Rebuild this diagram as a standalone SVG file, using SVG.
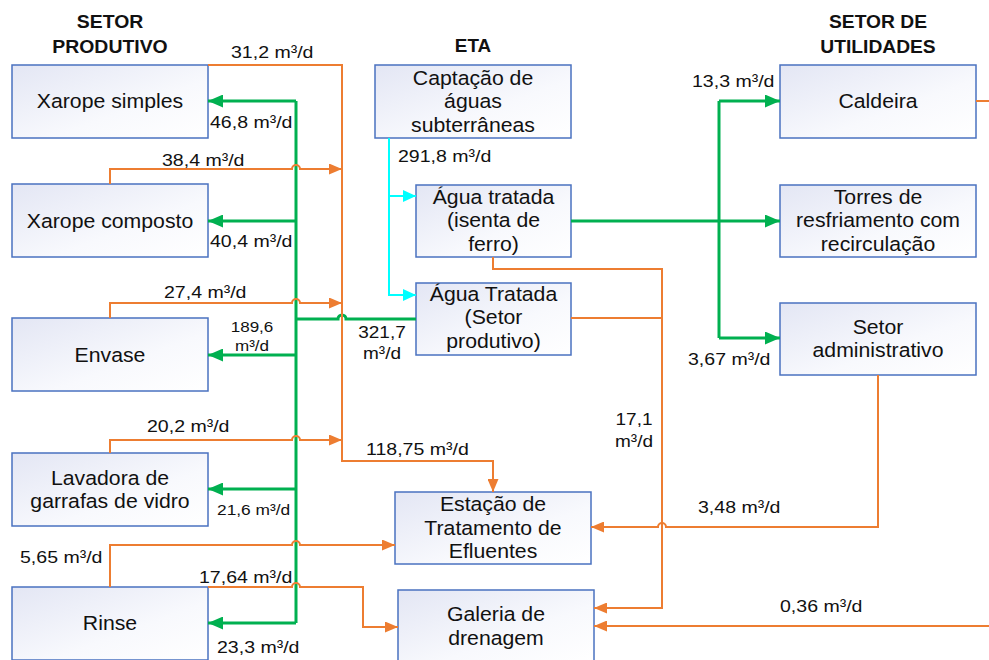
<svg xmlns="http://www.w3.org/2000/svg" width="989" height="660" viewBox="0 0 989 660">
<style>
.box{fill:url(#bg);stroke:#4A72C0;stroke-width:1.5}
.bt{font-family:"Liberation Sans",Arial,sans-serif;font-size:19.5px;text-anchor:middle;fill:#111}
.hd{font-family:"Liberation Sans",Arial,sans-serif;font-size:18.5px;font-weight:bold;text-anchor:middle;fill:#111}
.lb{font-family:"Liberation Sans",Arial,sans-serif;font-size:17px;fill:#111}
.lc{font-family:"Liberation Sans",Arial,sans-serif;font-size:17px;text-anchor:middle;fill:#111}
.ls{font-family:"Liberation Sans",Arial,sans-serif;font-size:15.5px;fill:#111}
.lsc{font-family:"Liberation Sans",Arial,sans-serif;font-size:15.5px;text-anchor:middle;fill:#111}
.o{fill:none;stroke:#ED7D31;stroke-width:2}
.g{fill:none;stroke:#00B050;stroke-width:3}
.c{fill:none;stroke:#00FFFF;stroke-width:2}
.oa{marker-end:url(#ao)}
.ga{marker-end:url(#ag)}
.ca{marker-end:url(#ac)}
</style>
<defs>
<linearGradient id="bg" x1="0" y1="0" x2="1" y2="1">
<stop offset="0" stop-color="#E3E6F4"/>
<stop offset="0.6" stop-color="#F8F9FD"/>
<stop offset="1" stop-color="#FFFFFF"/>
</linearGradient>
<marker id="ao" markerUnits="userSpaceOnUse" markerWidth="13" markerHeight="11" refX="13" refY="5.5" orient="auto"><path d="M0,0 L13,5.5 L0,11 z" fill="#ED7D31"/></marker>
<marker id="ag" markerUnits="userSpaceOnUse" markerWidth="15" markerHeight="13" refX="15" refY="6.5" orient="auto"><path d="M0,0 L15,6.5 L0,13 z" fill="#00B050"/></marker>
<marker id="ac" markerUnits="userSpaceOnUse" markerWidth="13" markerHeight="12" refX="13" refY="6" orient="auto"><path d="M0,0 L13,6 L0,12 z" fill="#00FFFF"/></marker>
</defs>
<rect width="989" height="660" fill="#FFFFFF"/>

<g id="headers">
<text class="hd" transform="translate(110,0) scale(1.05,1)"><tspan x="0" y="28">SETOR</tspan><tspan x="0" y="53">PRODUTIVO</tspan></text>
<text class="hd" transform="translate(473,0) scale(1.02,1)"><tspan x="0" y="52">ETA</tspan></text>
<text class="hd" transform="translate(878,0) scale(1.04,1)"><tspan x="0" y="28">SETOR DE</tspan><tspan x="0" y="53">UTILIDADES</tspan></text>
</g>

<g id="xarope-simples"><rect class="box" x="12" y="65" width="196" height="73"/><text class="bt" transform="translate(110,0) scale(1.09,1)"><tspan x="0" y="108">Xarope simples</tspan></text></g>
<g id="xarope-composto"><rect class="box" x="12" y="184" width="196" height="73"/><text class="bt" transform="translate(110,0) scale(1.09,1)"><tspan x="0" y="228">Xarope composto</tspan></text></g>
<g id="envase"><rect class="box" x="12" y="318" width="196" height="73"/><text class="bt" transform="translate(110,0) scale(1.09,1)"><tspan x="0" y="362">Envase</tspan></text></g>
<g id="lavadora"><rect class="box" x="12" y="453" width="196" height="73"/><text class="bt" transform="translate(110,0) scale(1.09,1)"><tspan x="0" y="485">Lavadora de</tspan><tspan x="0" y="508">garrafas de vidro</tspan></text></g>
<g id="rinse"><rect class="box" x="12" y="587" width="196" height="73"/><text class="bt" transform="translate(110,0) scale(1.09,1)"><tspan x="0" y="630">Rinse</tspan></text></g>

<g id="captacao"><rect class="box" x="375" y="65" width="196" height="73"/><text class="bt" transform="translate(473,0) scale(1.09,1)"><tspan x="0" y="85">Captação de</tspan><tspan x="0" y="108.5">águas</tspan><tspan x="0" y="132">subterrâneas</tspan></text></g>
<g id="agua-isenta"><rect class="box" x="416" y="185" width="155" height="72"/><text class="bt" transform="translate(493.5,0) scale(1.09,1)"><tspan x="0" y="204">Água tratada</tspan><tspan x="0" y="227.5">(isenta de</tspan><tspan x="0" y="251">ferro)</tspan></text></g>
<g id="agua-setor"><rect class="box" x="416" y="283" width="155" height="72"/><text class="bt" transform="translate(493.5,0) scale(1.09,1)"><tspan x="0" y="301">Água Tratada</tspan><tspan x="0" y="324.5">(Setor</tspan><tspan x="0" y="348">produtivo)</tspan></text></g>

<g id="caldeira"><rect class="box" x="780" y="65" width="196" height="73"/><text class="bt" transform="translate(878,0) scale(1.09,1)"><tspan x="0" y="108">Caldeira</tspan></text></g>
<g id="torres"><rect class="box" x="780" y="185" width="196" height="72"/><text class="bt" transform="translate(878,0) scale(1.09,1)"><tspan x="0" y="204">Torres de</tspan><tspan x="0" y="227.5">resfriamento com</tspan><tspan x="0" y="251">recirculação</tspan></text></g>
<g id="setor-adm"><rect class="box" x="780" y="303" width="196" height="72"/><text class="bt" transform="translate(878,0) scale(1.09,1)"><tspan x="0" y="334">Setor</tspan><tspan x="0" y="357.5">administrativo</tspan></text></g>

<g id="estacao"><rect class="box" x="395" y="492" width="196" height="72"/><text class="bt" transform="translate(493,0) scale(1.09,1)"><tspan x="0" y="511.5">Estação de</tspan><tspan x="0" y="535">Tratamento de</tspan><tspan x="0" y="558.5">Efluentes</tspan></text></g>
<g id="galeria"><rect class="box" x="398" y="590" width="196" height="73"/><text class="bt" transform="translate(496,0) scale(1.09,1)"><tspan x="0" y="621.5">Galeria de</tspan><tspan x="0" y="645">drenagem</tspan></text></g>

<g id="connectors">
<path class="c ca" d="M389,138 V295 H416"/>
<path class="c ca" d="M389,196 H416"/>
<path class="g" d="M296,101 V623"/>
<path class="g ga" d="M296,101 H208"/>
<path class="g ga" d="M296,221 H208"/>
<path class="g ga" d="M296,355 H208"/>
<path class="g ga" d="M296,489 H208"/>
<path class="g ga" d="M296,623 H208"/>
<path class="g" d="M416,319 H346 A4,4 0 0 0 338,319 H296"/>
<path class="g ga" d="M571,221 H780"/>
<path class="g" d="M719,101 V338"/>
<path class="g ga" d="M719,101 H780"/>
<path class="g ga" d="M719,338 H780"/>
<path class="o oa" d="M208,65 H342 V461 H493 V492"/>
<path class="o oa" d="M110,184 V169 H292 A4,4 0 0 1 300,169 H342"/>
<path class="o oa" d="M110,318 V303 H292 A4,4 0 0 1 300,303 H342"/>
<path class="o oa" d="M110,453 V440 H292 A4,4 0 0 1 300,440 H342"/>
<path class="o oa" d="M110,587 V545 H292 A4,4 0 0 1 300,545 H395"/>
<path class="o oa" d="M208,587 H292 A4,4 0 0 1 300,587 H363 V627 H398"/>
<path class="o oa" d="M493,257 V269 H662 V608 H594"/>
<path class="o" d="M571,318 H662"/>
<path class="o oa" d="M878,375 V527 H666 A4,4 0 0 0 658,527 H591"/>
<path class="o oa" d="M976,101 H1000 V626 H594"/>
</g>

<g id="labels">
<text class="lb" transform="translate(231,58) scale(1.15,1)">31,2 m³/d</text>
<text class="lb" transform="translate(210,128) scale(1.15,1)">46,8 m³/d</text>
<text class="lb" transform="translate(162,166) scale(1.15,1)">38,4 m³/d</text>
<text class="lb" transform="translate(210,247) scale(1.15,1)">40,4 m³/d</text>
<text class="lb" transform="translate(164,298) scale(1.15,1)">27,4 m³/d</text>
<text class="lsc" transform="translate(252,0) scale(1.1,1)"><tspan x="0" y="332">189,6</tspan><tspan x="0" y="351">m³/d</tspan></text>
<text class="lb" transform="translate(147,432) scale(1.15,1)">20,2 m³/d</text>
<text class="ls" transform="translate(217,515) scale(1.12,1)">21,6 m³/d</text>
<text class="lb" transform="translate(20,563) scale(1.15,1)">5,65 m³/d</text>
<text class="lb" transform="translate(199,583) scale(1.15,1)">17,64 m³/d</text>
<text class="lb" transform="translate(217,653) scale(1.15,1)">23,3 m³/d</text>
<text class="lc" transform="translate(382,0) scale(1.12,1)"><tspan x="0" y="338">321,7</tspan><tspan x="0" y="359">m³/d</tspan></text>
<text class="lb" transform="translate(398,162) scale(1.15,1)">291,8 m³/d</text>
<text class="lb" transform="translate(366,455) scale(1.15,1)">118,75 m³/d</text>
<text class="lc" transform="translate(634,0) scale(1.12,1)"><tspan x="0" y="425">17,1</tspan><tspan x="0" y="447">m³/d</tspan></text>
<text class="lb" transform="translate(698,513) scale(1.15,1)">3,48 m³/d</text>
<text class="lb" transform="translate(780,612) scale(1.15,1)">0,36 m³/d</text>
<text class="lb" transform="translate(692,87) scale(1.15,1)">13,3 m³/d</text>
<text class="lb" transform="translate(688,365) scale(1.15,1)">3,67 m³/d</text>
</g>
</svg>
